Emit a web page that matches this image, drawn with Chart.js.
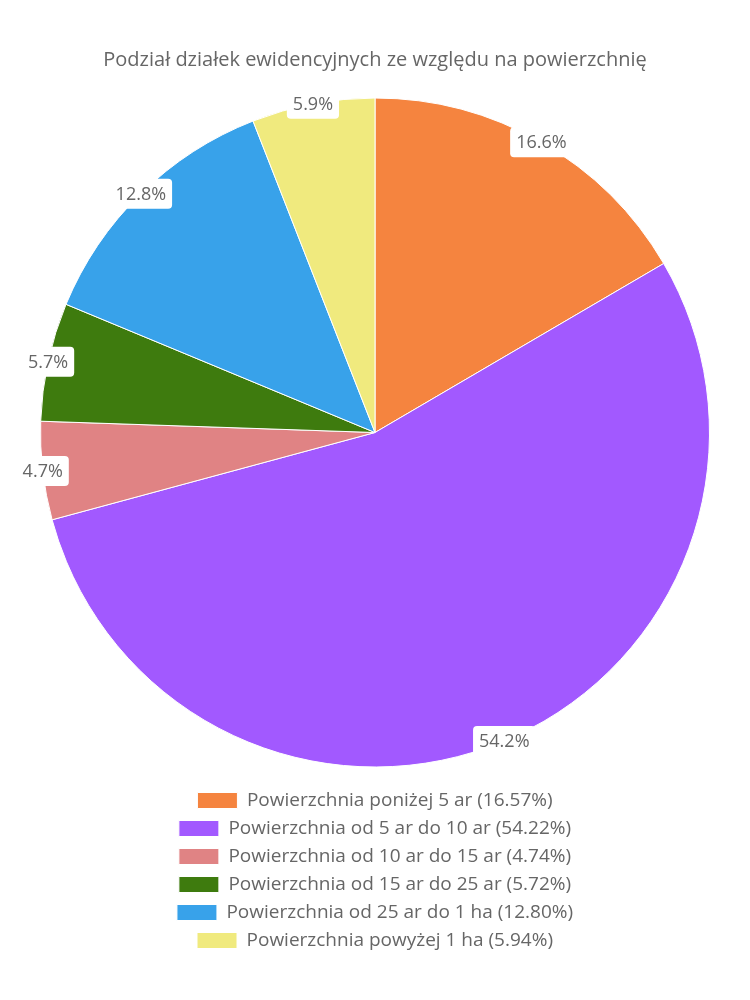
<!DOCTYPE html>
<html>
<head>
<meta charset="utf-8">
<script src="https://cdn.jsdelivr.net/npm/chart.js@4.4.0/dist/chart.umd.min.js"></script>
<style>
html,body{margin:0;padding:0;background:#fff;}
#wrap{width:750px;height:1000px;position:relative;}
</style>
</head>
<body>
<div id="wrap"><canvas id="c"></canvas></div>
<script>
const chartTitle = "Podział działek ewidencyjnych ze względu na powierzchnię";
const categories = [
  "Powierzchnia poniżej 5 ar",
  "Powierzchnia od 5 ar do 10 ar",
  "Powierzchnia od 10 ar do 15 ar",
  "Powierzchnia od 15 ar do 25 ar",
  "Powierzchnia od 25 ar do 1 ha",
  "Powierzchnia powyżej 1 ha"
];
const shares = [16.57, 54.22, 4.74, 5.72, 12.80, 5.94];
const colors = ["#F5843F", "#A259FF", "#E08384", "#3E7B0E", "#38A2EA", "#F0EA7E"];

const FONT = "'Open Sans', sans-serif";
const TEXT = "#666666";

const labelPlugin = {
  id: 'edgeLabels',
  afterDatasetsDraw(chart) {
    const ctx = chart.ctx;
    const meta = chart.getDatasetMeta(0);
    ctx.save();
    ctx.font = "18px " + FONT;
    ctx.textAlign = "center";
    ctx.textBaseline = "middle";
    meta.data.forEach((arc, i) => {
      const p = arc.getProps(['x','y','startAngle','endAngle','outerRadius'], true);
      const mid = (p.startAngle + p.endAngle) / 2;
      const x = p.x + p.outerRadius * Math.cos(mid);
      const y = p.y + p.outerRadius * Math.sin(mid);
      const txt = shares[i].toFixed(1) + "%";
      const w = ctx.measureText(txt).width + 12;
      const h = 30;
      ctx.fillStyle = "#ffffff";
      ctx.beginPath();
      ctx.roundRect(x - w/2, y - h/2, w, h, 4);
      ctx.fill();
      ctx.fillStyle = TEXT;
      ctx.fillText(txt, x, y + 1);
    });
    ctx.restore();
  }
};

new Chart(document.getElementById('c'), {
  type: 'pie',
  data: {
    labels: categories.map((c, i) => c + " (" + shares[i].toFixed(2) + "%)"),
    datasets: [{
      data: shares,
      backgroundColor: colors,
      borderColor: "#ffffff",
      borderWidth: 1
    }]
  },
  options: {
    responsive: true,
    maintainAspectRatio: false,
    animation: false,
    layout: { padding: { top: 40, bottom: 40, left: 40, right: 40 } },
    plugins: {
      title: {
        display: true,
        text: chartTitle,
        color: TEXT,
        font: { family: FONT, size: 20, weight: 'normal', lineHeight: 1.0 },
        padding: { top: 10, bottom: 13 }
      },
      legend: {
        position: 'bottom',
        labels: {
          color: TEXT,
          font: { family: FONT, size: 19 },
          boxWidth: 40,
          boxHeight: 16,
          padding: 9
        }
      },
      tooltip: { enabled: false }
    }
  },
  plugins: [labelPlugin]
});
</script>
</body>
</html>
